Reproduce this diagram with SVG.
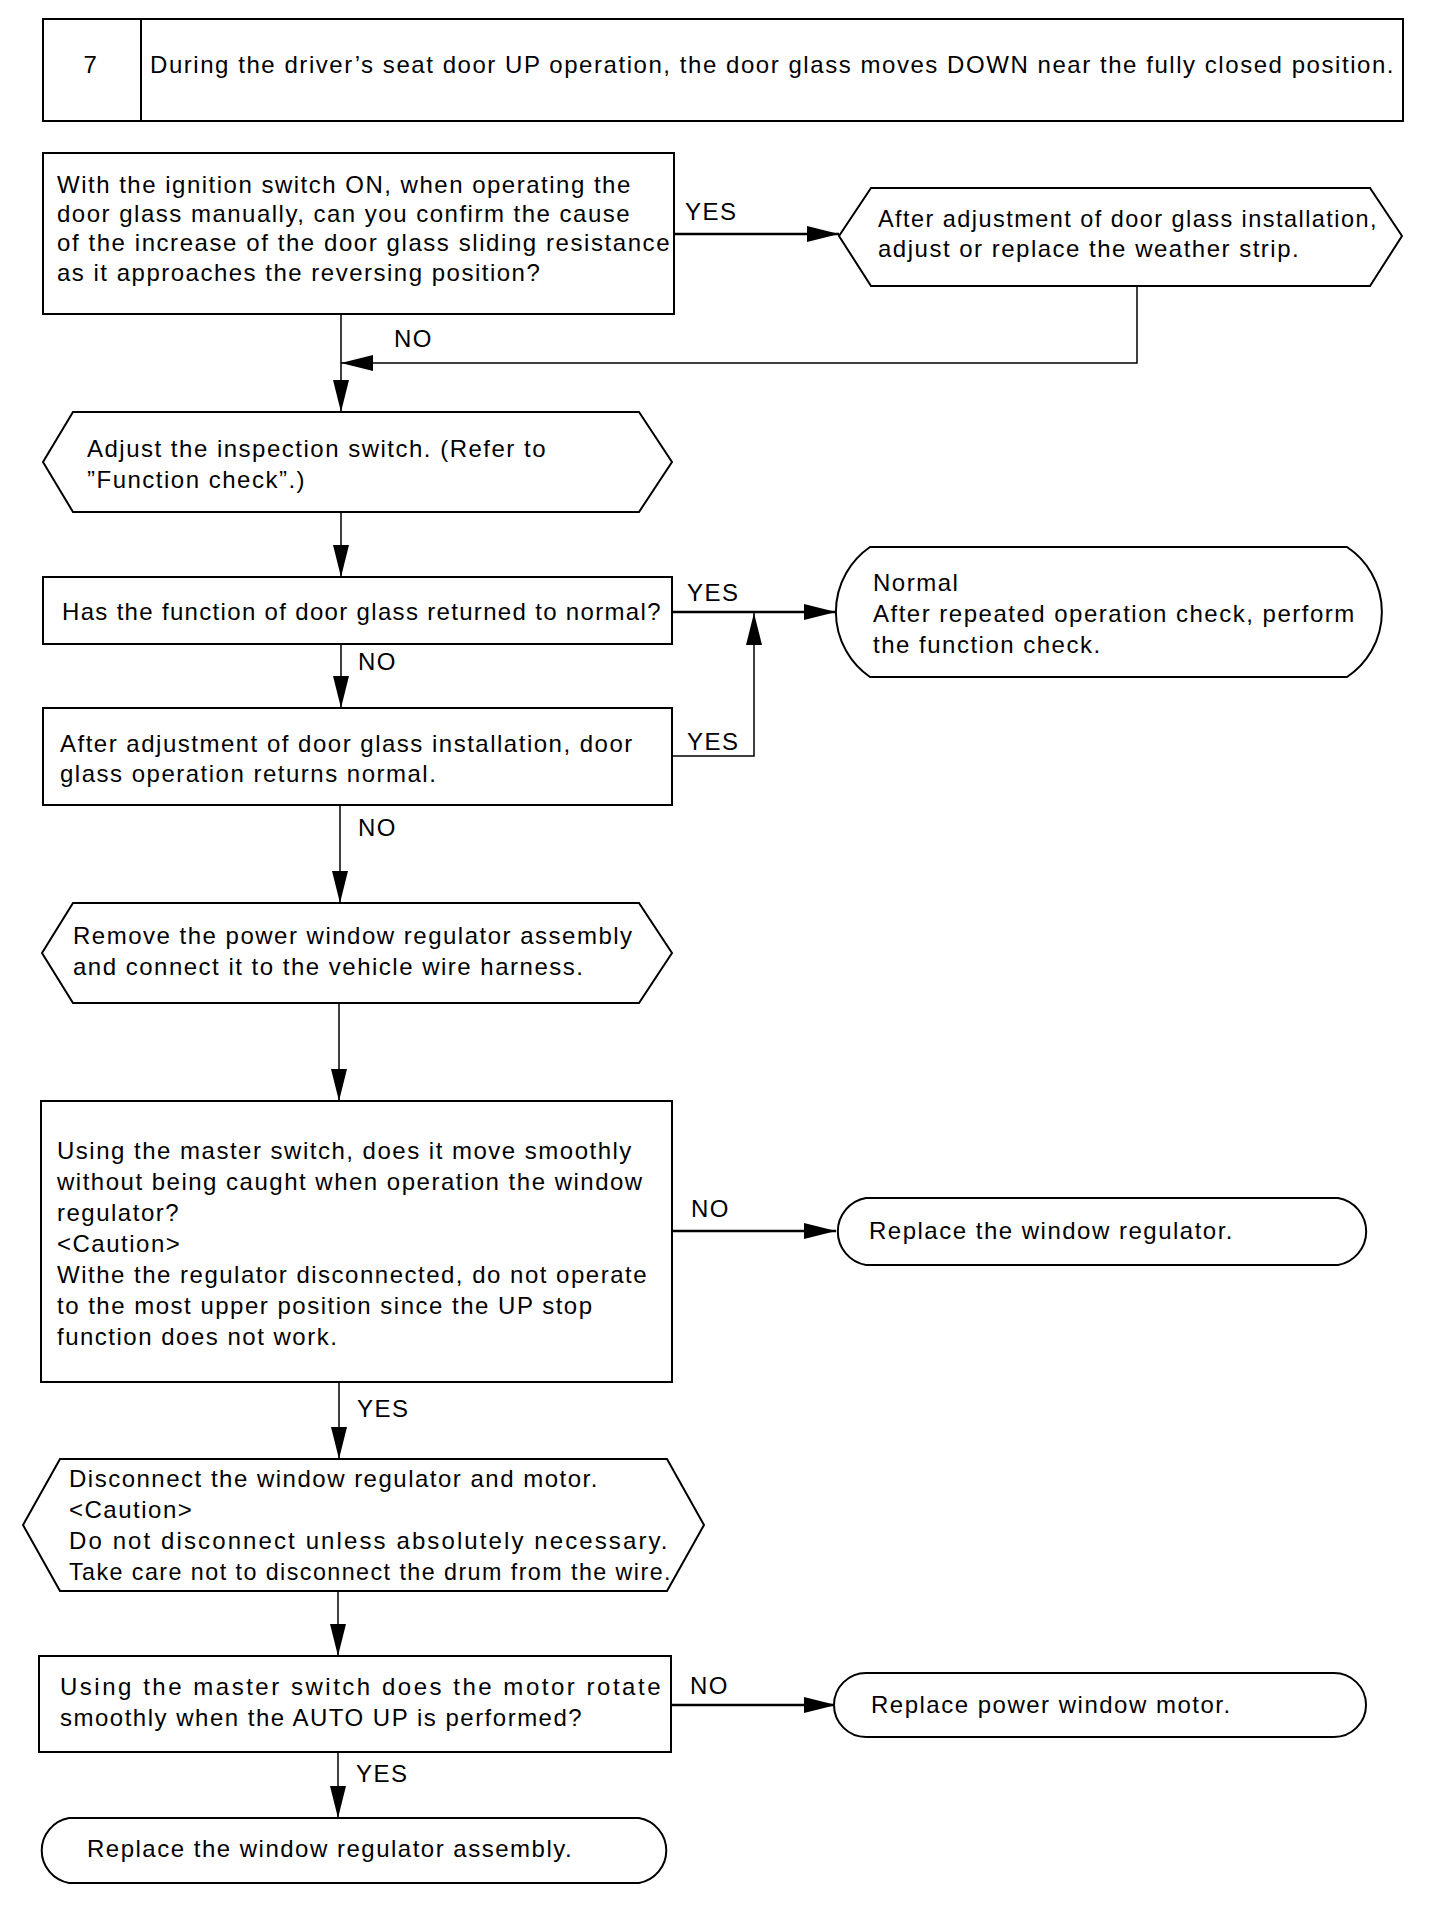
<svg xmlns="http://www.w3.org/2000/svg" width="1440" height="1910" viewBox="0 0 1440 1910">
<style>
.bg{fill:#fff}
.n{fill:#fff;stroke:#000;stroke-width:2}
.t{font-family:"Liberation Sans",Arial,sans-serif;font-size:24px;letter-spacing:1.5px;fill:#000}
.c{fill:none;stroke:#000;stroke-width:1.5}
.ch{fill:none;stroke:#000;stroke-width:2.5}
</style>
<defs>
<marker id="ah" viewBox="0 0 32 16" refX="32" refY="8" markerWidth="32" markerHeight="16" markerUnits="userSpaceOnUse" orient="auto">
<path d="M0,0 L32,8 L0,16 Z" fill="#000"/>
</marker>
</defs>
<rect class="bg" x="0" y="0" width="1440" height="1910"/>

<g id="header">
<rect class="n" x="43" y="19" width="1360" height="102"/>
<line x1="141" y1="19" x2="141" y2="121" stroke="#000" stroke-width="2"/>
<text class="t" x="91" y="73" text-anchor="middle">7</text>
<text class="t" x="150" y="73" textLength="1245" lengthAdjust="spacing">During the driver’s seat door UP operation, the door glass moves DOWN near the fully closed position.</text>
</g>

<g id="connectors">
<path class="ch" d="M674,234 H839" marker-end="url(#ah)"/>
<path class="c" d="M1137,286 V363 H341" marker-end="url(#ah)"/>
<path class="c" d="M341,314 V412" marker-end="url(#ah)"/>
<path class="c" d="M341,512 V577" marker-end="url(#ah)"/>
<path class="ch" d="M672,612 H836" marker-end="url(#ah)"/>
<path class="c" d="M341,644 V708" marker-end="url(#ah)"/>
<path class="c" d="M672,756 H754 V613" marker-end="url(#ah)"/>
<path class="c" d="M340,805 V903" marker-end="url(#ah)"/>
<path class="c" d="M339,1003 V1101" marker-end="url(#ah)"/>
<path class="ch" d="M672,1231 H836" marker-end="url(#ah)"/>
<path class="c" d="M339,1382 V1459" marker-end="url(#ah)"/>
<path class="c" d="M338,1591 V1656" marker-end="url(#ah)"/>
<path class="ch" d="M671,1705 H836" marker-end="url(#ah)"/>
<path class="c" d="M338,1752 V1818" marker-end="url(#ah)"/>
<text class="t" x="685" y="220">YES</text>
<text class="t" x="394" y="347">NO</text>
<text class="t" x="687" y="601">YES</text>
<text class="t" x="358" y="670">NO</text>
<text class="t" x="687" y="750">YES</text>
<text class="t" x="358" y="836">NO</text>
<text class="t" x="691" y="1217">NO</text>
<text class="t" x="357" y="1417">YES</text>
<text class="t" x="690" y="1694">NO</text>
<text class="t" x="356" y="1782">YES</text>
</g>

<g id="q1">
<rect class="n" x="43" y="153" width="631" height="161"/>
<text class="t" x="57" y="193">With the ignition switch ON, when operating the</text>
<text class="t" x="57" y="222">door glass manually, can you confirm the cause</text>
<text class="t" x="57" y="251" textLength="614" lengthAdjust="spacing">of the increase of the door glass sliding resistance</text>
<text class="t" x="57" y="281">as it approaches the reversing position?</text>
</g>

<g id="a1">
<path class="n" d="M871,188 L1370,188 L1402,236 L1370,286 L871,286 L839,236 Z"/>
<text class="t" x="878" y="227" textLength="500" lengthAdjust="spacingAndGlyphs">After adjustment of door glass installation,</text>
<text class="t" x="878" y="257">adjust or replace the weather strip.</text>
</g>

<g id="a2">
<path class="n" d="M73,412 L639,412 L672,462 L639,512 L73,512 L43,462 Z"/>
<text class="t" x="87" y="457">Adjust the inspection switch. (Refer to</text>
<text class="t" x="87" y="488">”Function check”.)</text>
</g>

<g id="q2">
<rect class="n" x="43" y="577" width="629" height="67"/>
<text class="t" x="62" y="620" textLength="600" lengthAdjust="spacing">Has the function of door glass returned to normal?</text>
</g>

<g id="normal">
<path class="n" d="M870,547 L1347,547 A78 78 0 0 1 1347,677 L870,677 A79 79 0 0 1 870,547 Z"/>
<text class="t" x="873" y="591">Normal</text>
<text class="t" x="873" y="622">After repeated operation check, perform</text>
<text class="t" x="873" y="653">the function check.</text>
</g>

<g id="q3">
<rect class="n" x="43" y="708" width="629" height="97"/>
<text class="t" x="60" y="752">After adjustment of door glass installation, door</text>
<text class="t" x="60" y="782">glass operation returns normal.</text>
</g>

<g id="a3">
<path class="n" d="M73,903 L639,903 L672,953 L639,1003 L73,1003 L42,953 Z"/>
<text class="t" x="73" y="944">Remove the power window regulator assembly</text>
<text class="t" x="73" y="975">and connect it to the vehicle wire harness.</text>
</g>

<g id="q4">
<rect class="n" x="41" y="1101" width="631" height="281"/>
<text class="t" x="57" y="1159">Using the master switch, does it move smoothly</text>
<text class="t" x="57" y="1190">without being caught when operation the window</text>
<text class="t" x="57" y="1221">regulator?</text>
<text class="t" x="57" y="1252">&lt;Caution&gt;</text>
<text class="t" x="57" y="1283">Withe the regulator disconnected, do not operate</text>
<text class="t" x="57" y="1314">to the most upper position since the UP stop</text>
<text class="t" x="57" y="1345">function does not work.</text>
</g>

<g id="r1">
<path class="n" d="M866,1198 L1338,1198 A34 34 0 0 1 1338,1265 L866,1265 A34 34 0 0 1 866,1198 Z"/>
<text class="t" x="869" y="1239">Replace the window regulator.</text>
</g>

<g id="a4">
<path class="n" d="M60,1459 L667,1459 L704,1525 L667,1591 L60,1591 L23,1525 Z"/>
<text class="t" x="69" y="1487">Disconnect the window regulator and motor.</text>
<text class="t" x="69" y="1518">&lt;Caution&gt;</text>
<text class="t" x="69" y="1549" textLength="600" lengthAdjust="spacing">Do not disconnect unless absolutely necessary.</text>
<text class="t" x="69" y="1580" textLength="603" lengthAdjust="spacingAndGlyphs">Take care not to disconnect the drum from the wire.</text>
</g>

<g id="q5">
<rect class="n" x="39" y="1656" width="632" height="96"/>
<text class="t" x="60" y="1695" textLength="602" lengthAdjust="spacing">Using the master switch does the motor rotate</text>
<text class="t" x="60" y="1726">smoothly when the AUTO UP is performed?</text>
</g>

<g id="r2">
<path class="n" d="M866,1673 L1334,1673 A32 32 0 0 1 1334,1737 L866,1737 A32 32 0 0 1 866,1673 Z"/>
<text class="t" x="871" y="1713">Replace power window motor.</text>
</g>

<g id="r3">
<path class="n" d="M69,1818 L639,1818 A33 33 0 0 1 639,1883 L69,1883 A33 33 0 0 1 69,1818 Z"/>
<text class="t" x="87" y="1857">Replace the window regulator assembly.</text>
</g>
</svg>
